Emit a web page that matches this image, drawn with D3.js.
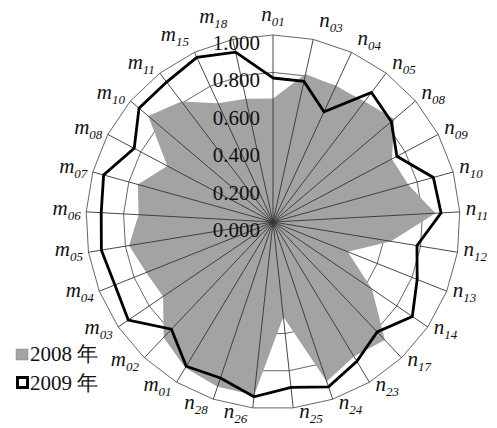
<!DOCTYPE html>
<html><head><meta charset="utf-8">
<script src="https://cdn.jsdelivr.net/npm/d3@7"></script>
<style>
body{margin:0;background:#fff}svg{display:block}
text{font-family:"Liberation Serif","Times New Roman",Tinos,"DejaVu Serif",serif;}
</style>
</head><body><svg id="c" width="497" height="428"></svg>
<script>
const categories = ["n01","n03","n04","n05","n08","n09","n10","n11","n12","n13","n14","n17","n23","n24","n25","n26","n28","m01","m02","m03","m04","m05","m06","m07","m08","m10","m11","m15","m18"];
const values2008 = [0.66,0.81,0.80,0.81,0.85,0.72,0.75,0.87,0.64,0.43,0.64,0.87,0.84,0.90,0.51,0.93,0.93,0.91,0.85,0.71,0.73,0.78,0.72,0.75,0.64,0.875,0.81,0.70,0.675];
const values2009 = [0.77,0.77,0.65,0.87,0.83,0.75,0.89,0.90,0.78,0.83,0.90,0.81,0.87,0.93,0.89,0.94,0.88,0.90,0.79,0.935,0.91,0.93,0.92,0.94,0.84,0.94,0.94,0.97,0.93];
const tickValues = [0,0.2,0.4,0.6,0.8,1.0];
const seriesNames = ["2008 年","2009 年"];

const cx = 273, cy = 222, R = 187;
const svg = d3.select("#c");
const g = svg.append("g").attr("transform", `translate(${cx},${cy})`);
const r = d3.scaleLinear().domain([0,1]).range([0,R]);
const step = 2*Math.PI/categories.length;
const angle = i => i*step;
const pt = (i,v) => [r(v)*Math.sin(angle(i)), -r(v)*Math.cos(angle(i))];
const radial = d3.lineRadial().angle((d,i)=>angle(i)).radius(d=>r(d)).curve(d3.curveLinearClosed);

// rings
tickValues.filter(t=>t>0).forEach(t=>{
  g.append("path").attr("d", radial(categories.map(()=>t)))
    .attr("fill","none").attr("stroke","#555").attr("stroke-width",0.9);
});
// 2008 fill
g.append("path").attr("d", radial(values2008)).attr("fill","#a3a3a3").attr("stroke","none");
// spokes
categories.forEach((c,i)=>{
  const [x,y] = pt(i,1);
  g.append("line").attr("x1",0).attr("y1",0).attr("x2",x).attr("y2",y)
    .attr("stroke","#333").attr("stroke-width",0.9);
});
// 2009 line
g.append("path").attr("d", radial(values2009)).attr("fill","none").attr("stroke","#000").attr("stroke-width",2.8).attr("stroke-linejoin","miter");

// tick labels
const fmt = d3.format(".3f");
tickValues.forEach(t=>{
  g.append("text").attr("x",-13).attr("y",-r(t)+15).attr("text-anchor","end")
    .attr("font-size",21).attr("fill","#111").text(fmt(t));
});

// category labels
categories.forEach((c,i)=>{
  const a = angle(i), s = Math.sin(a), co = Math.cos(a);
  const [ex,ey] = pt(i,1);
  const t = g.append("text").attr("font-style","italic").attr("fill","#111");
  t.append("tspan").attr("font-size",21).text(c[0]);
  t.append("tspan").attr("font-size",13).attr("dy",5).text(c.slice(1));
  const bb = t.node().getBBox();
  let x;
  if (s > 0.08) x = ex + 6;
  else if (s < -0.08) x = ex - 5 - bb.width;
  else x = ex - bb.width/2;
  let base = ey + 3 - co*(7 + 10*Math.pow(Math.max(0,co),8));
  if (s < -0.08 && co > 0.9) base -= 4;
  t.attr("x", x).attr("y", base);
});

// legend
const lg = svg.append("g");
lg.append("rect").attr("x",16).attr("y",349).attr("width",12).attr("height",11).attr("fill","#a3a3a3").attr("stroke","#888").attr("stroke-width",0.5);
lg.append("text").attr("x",30).attr("y",361).attr("font-size",21).attr("fill","#111").text(seriesNames[0]);
lg.append("rect").attr("x",17.5).attr("y",377.5).attr("width",10).attr("height",10).attr("fill","#fff").attr("stroke","#000").attr("stroke-width",3);
lg.append("text").attr("x",30).attr("y",390).attr("font-size",21).attr("fill","#111").text(seriesNames[1]);
</script>
</body></html>
